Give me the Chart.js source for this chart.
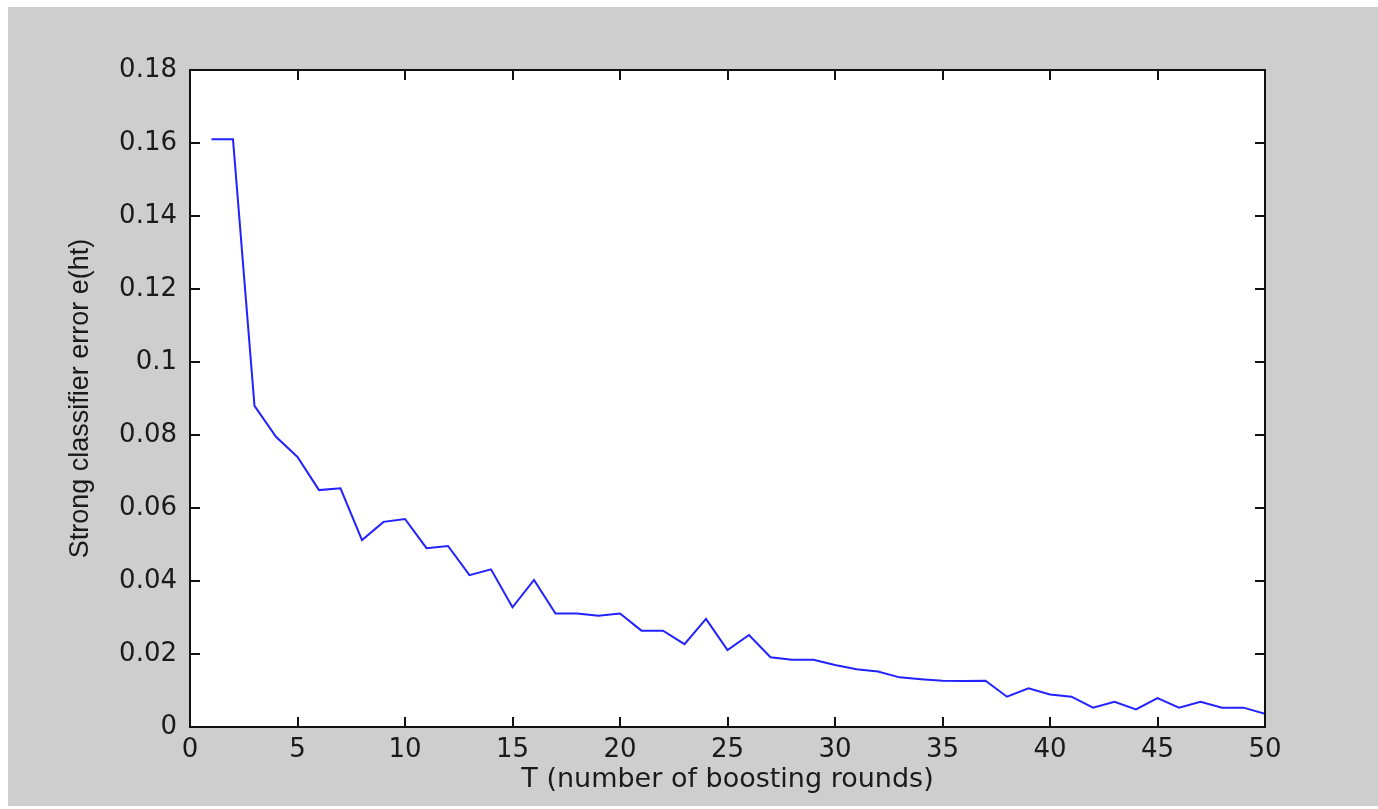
<!DOCTYPE html>
<html>
<head>
<meta charset="utf-8">
<script src="https://cdn.jsdelivr.net/npm/chart.js@4"></script>
<style>
  body { margin: 0; background: #fff; }
  canvas { display: block; }
</style>
</head>
<body>
<canvas id="errorChart" width="1378" height="809"></canvas>
<script>
// boosting rounds T and strong classifier error
const rounds = [1, 2, 3, 4, 5, 6, 7, 8, 9, 10,
    11, 12, 13, 14, 15, 16, 17, 18, 19, 20,
    21, 22, 23, 24, 25, 26, 27, 28, 29, 30,
    31, 32, 33, 34, 35, 36, 37, 38, 39, 40,
    41, 42, 43, 44, 45, 46, 47, 48, 49, 50];
const errors = [0.161, 0.161, 0.088, 0.0795, 0.074, 0.0649, 0.0654, 0.0512, 0.0562, 0.057,
    0.049, 0.0496, 0.0416, 0.0432, 0.0328, 0.0403, 0.0311, 0.0311, 0.0305, 0.0311,
    0.0264, 0.0264, 0.0227, 0.0296, 0.0211, 0.0252, 0.0191, 0.0184, 0.0184, 0.017,
    0.0158, 0.0152, 0.0136, 0.0131, 0.0127, 0.0126, 0.0127, 0.0083, 0.0106, 0.0089,
    0.0083, 0.0053, 0.0069, 0.0048, 0.0079, 0.0053, 0.0069, 0.0053, 0.0053, 0.0036];

const xTicks = [0, 5, 10, 15, 20, 25, 30, 35, 40, 45, 50];
const yTicks = [0, 0.02, 0.04, 0.06, 0.08, 0.1, 0.12, 0.14, 0.16, 0.18];

const tickFont = { family: 'DejaVu Sans', size: 26 };
const xTitleFont = { family: 'DejaVu Sans', size: 27 };
const yTitleFont = { family: 'Liberation Sans', size: 27 };

// gray figure background, white axes box, inward ticks on all sides
const matlabFrame = {
    id: 'matlabFrame',
    beforeDraw(chart) {
        const { ctx, chartArea: a } = chart;
        ctx.save();
        ctx.fillStyle = '#ffffff';
        ctx.fillRect(0, 0, chart.width, chart.height);
        ctx.fillStyle = '#cecece';
        ctx.fillRect(8, 7, chart.width - 8, chart.height - 10);
        ctx.fillStyle = '#ffffff';
        ctx.fillRect(a.left, a.top, a.right - a.left, a.bottom - a.top);
        ctx.restore();
    },
    afterDraw(chart) {
        const { ctx, chartArea: a, scales } = chart;
        const len = 10;
        ctx.save();
        ctx.strokeStyle = '#111';
        ctx.lineWidth = 2;
        ctx.beginPath();
        xTicks.forEach(v => {
            const px = Math.round(scales.x.getPixelForValue(v));
            ctx.moveTo(px, a.bottom); ctx.lineTo(px, a.bottom - len);
            ctx.moveTo(px, a.top); ctx.lineTo(px, a.top + len);
        });
        yTicks.forEach(v => {
            const py = Math.round(scales.y.getPixelForValue(v));
            ctx.moveTo(a.left, py); ctx.lineTo(a.left + len, py);
            ctx.moveTo(a.right, py); ctx.lineTo(a.right - len, py);
        });
        ctx.stroke();
        ctx.strokeRect(a.left, a.top, a.right - a.left, a.bottom - a.top);
        ctx.restore();
    }
};

document.addEventListener('DOMContentLoaded', () => {
    const ctx = document.getElementById('errorChart').getContext('2d');

    new Chart(ctx, {
        type: 'line',
        data: {
            datasets: [{
                data: rounds.map((t, i) => ({ x: t, y: errors[i] })),
                borderColor: '#2222ff',
                borderWidth: 2,
                pointRadius: 0,
                tension: 0,
                fill: false
            }]
        },
        options: {
            responsive: false,
            animation: false,
            devicePixelRatio: 1,
            layout: {
                padding: { left: 0, top: 70, right: 113, bottom: 0 }
            },
            plugins: {
                legend: { display: false },
                tooltip: { enabled: false }
            },
            scales: {
                x: {
                    type: 'linear',
                    min: 0,
                    max: 50,
                    afterFit: scale => { scale.height = 82; },
                    afterBuildTicks: scale => { scale.ticks = xTicks.map(v => ({ value: v })); },
                    grid: { display: false, drawTicks: false },
                    border: { display: false },
                    ticks: {
                        autoSkip: false,
                        maxRotation: 0,
                        padding: 8,
                        color: '#1a1a1a',
                        font: tickFont,
                        callback: v => String(v)
                    },
                    title: {
                        display: true,
                        text: 'T (number of boosting rounds)',
                        color: '#1a1a1a',
                        font: xTitleFont,
                        padding: { top: 0, bottom: 13 }
                    }
                },
                y: {
                    type: 'linear',
                    min: 0,
                    max: 0.18,
                    afterFit: scale => { scale.width = 190; },
                    afterBuildTicks: scale => { scale.ticks = yTicks.map(v => ({ value: v })); },
                    grid: { display: false, drawTicks: false },
                    border: { display: false },
                    ticks: {
                        autoSkip: false,
                        padding: 13,
                        color: '#1a1a1a',
                        font: tickFont,
                        callback: v => String(+v.toFixed(2))
                    },
                    title: {
                        display: true,
                        text: 'Strong classifier error e(ht)',
                        color: '#1a1a1a',
                        font: yTitleFont,
                        padding: { top: 64, bottom: 0 }
                    }
                }
            }
        },
        plugins: [matlabFrame]
    });
});
</script>
</body>
</html>
